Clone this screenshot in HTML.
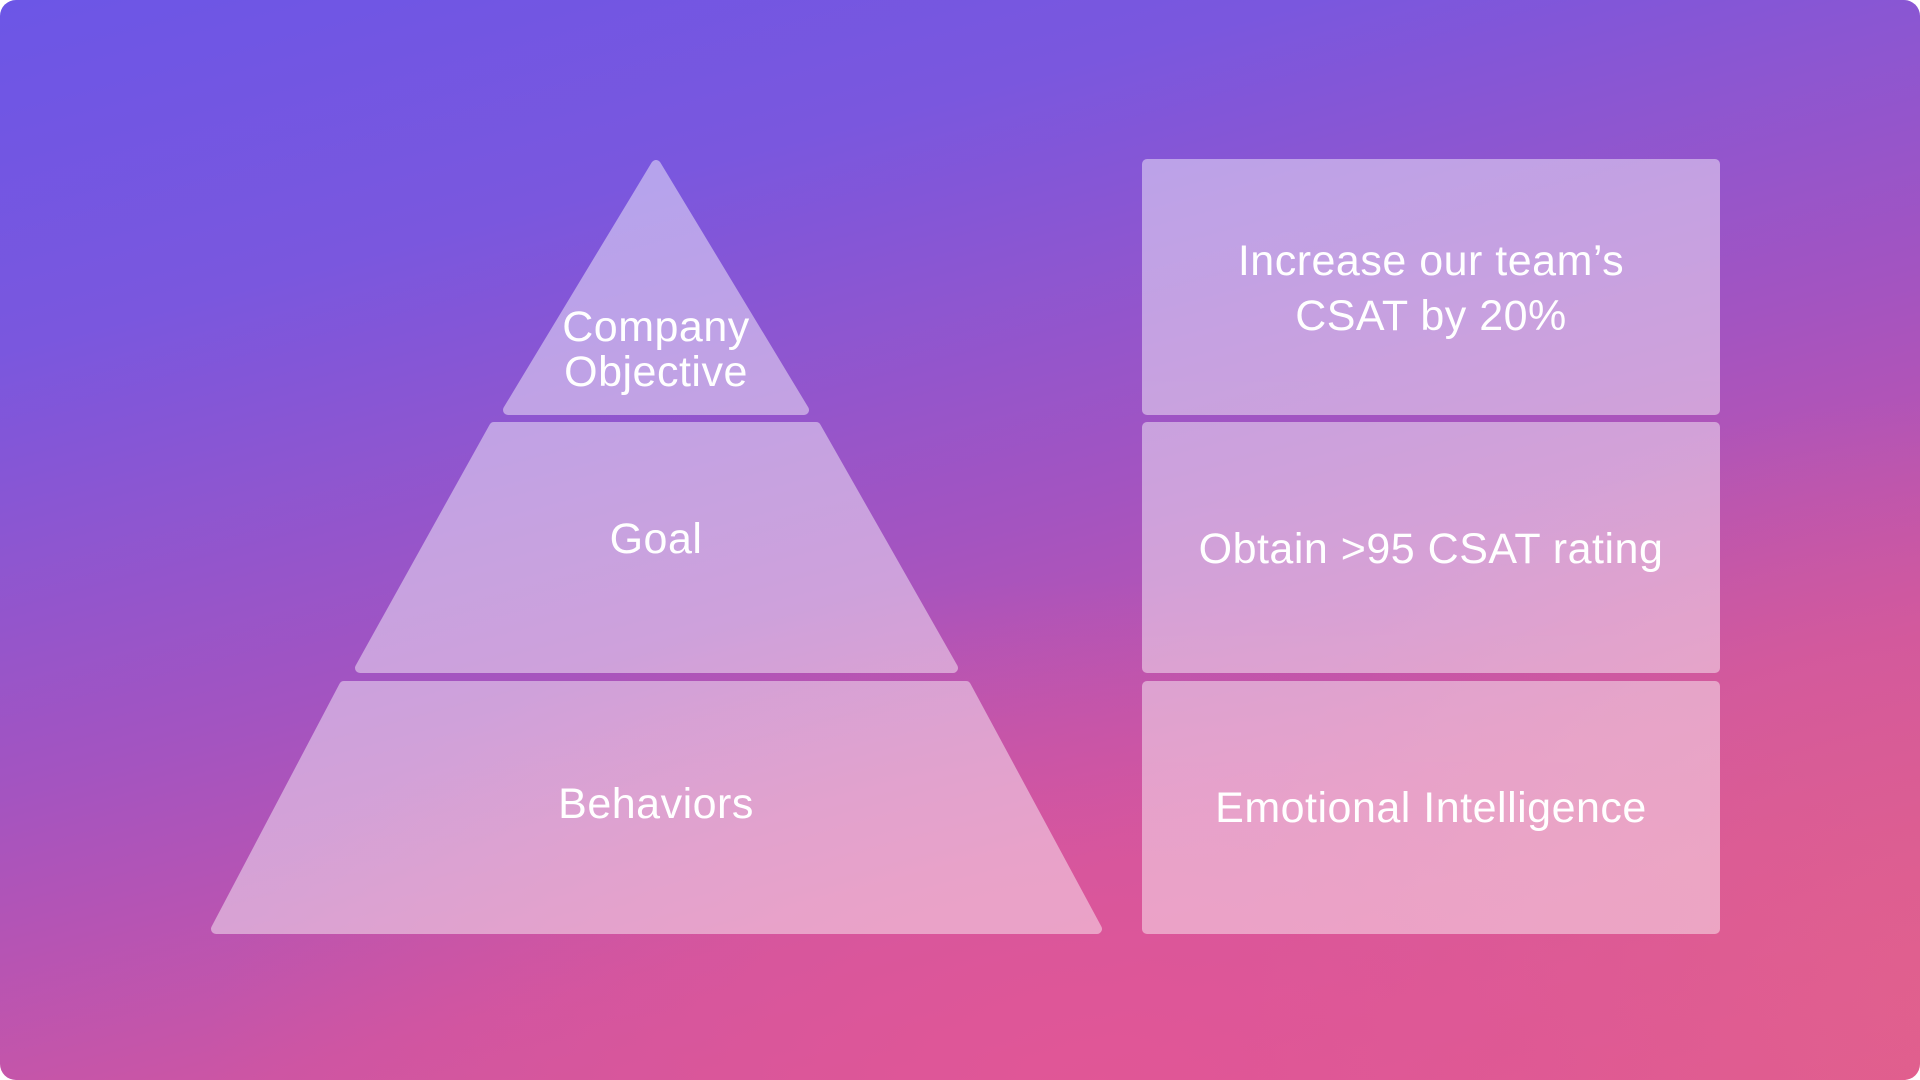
<!DOCTYPE html>
<html><head><meta charset="utf-8"><style>
html,body{margin:0;padding:0;width:1920px;height:1080px;background:#fff;overflow:hidden}
.bg{position:absolute;left:0;top:0;width:1920px;height:1080px;border-radius:16px;overflow:hidden;
background:
radial-gradient(ellipse 900px 500px at 1100px 1080px, rgba(226,86,150,0.9), rgba(226,86,150,0) 100%),
radial-gradient(ellipse 700px 600px at 1920px 1000px, rgba(226,98,140,0.8), rgba(226,98,140,0) 100%),
linear-gradient(165deg,#6c56e6 0%,#7a57de 22%,#a454c0 50%,#cc55a4 72%,#de5a90 100%);}
svg{position:absolute;left:0;top:0}
.t{position:absolute;color:#fff;font-family:"Liberation Sans",sans-serif;font-size:43px;text-align:center;line-height:55px;letter-spacing:0.5px}
</style></head><body>
<div class="bg"></div>
<svg width="1920" height="1080">
<g opacity="0.45" fill="#fff" stroke="#fff" stroke-width="10" stroke-linejoin="round">
<polygon points="656,165 804,410 508,410"/>
<polygon points="494,427 816,427 953,668 360,668"/>
<polygon points="344,686 966,686 1097,929 216,929"/>
</g>
<g opacity="0.45" fill="#fff">
<rect x="1142" y="159" width="578" height="256" rx="5"/>
<rect x="1142" y="422" width="578" height="251" rx="5"/>
<rect x="1142" y="681" width="578" height="253" rx="5"/>
</g>
</svg>
<div class="t" style="left:456px;width:400px;top:305px;line-height:45px">Company<br>Objective</div>
<div class="t" style="left:456px;width:400px;top:512px">Goal</div>
<div class="t" style="left:456px;width:400px;top:777px">Behaviors</div>
<div class="t" style="left:1142px;width:578px;top:234px">Increase our team’s<br>CSAT by 20%</div>
<div class="t" style="left:1142px;width:578px;top:522px">Obtain &gt;95 CSAT rating</div>
<div class="t" style="left:1142px;width:578px;top:781px">Emotional Intelligence</div>
</body></html>
